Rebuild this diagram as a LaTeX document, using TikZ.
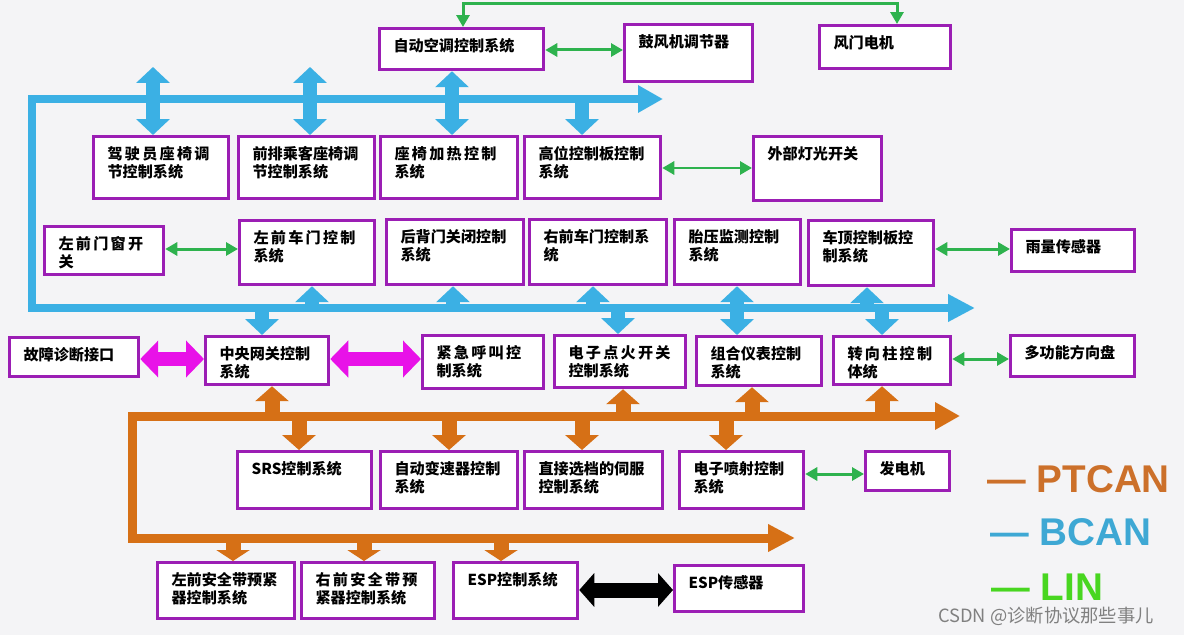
\documentclass[tikz,border=0pt]{standalone}
\usepackage{fontspec}
\setmainfont{Noto Sans CJK SC}
\newfontfamily\legfont{Liberation Sans}
\usetikzlibrary{arrows.meta}
\definecolor{boxc}{RGB}{155,30,180}
\definecolor{bcan}{RGB}{59,176,228}
\definecolor{ptcan}{RGB}{214,112,22}
\definecolor{linc}{RGB}{46,178,78}
\definecolor{magc}{RGB}{232,18,232}
\definecolor{bgc}{RGB}{244,244,246}
\definecolor{ptleg}{RGB}{204,112,42}
\definecolor{bleg}{RGB}{62,168,212}
\definecolor{lleg}{RGB}{72,214,32}
\pgfdeclarelayer{bglayer}
\pgfdeclarelayer{connlayer}
\pgfsetlayers{bglayer,connlayer,main}
\newcommand\bx[6]{%
  \pgfmathsetmacro\bxw{(#4-#2)*0.02-0.56}%
  \pgfmathsetmacro\bxh{(#5-#3)*0.02-0.4}%
  \node[box] (#1) at (#2,#3) {\parbox[t][\bxh cm][t]{\bxw cm}{#6}};}
\newcommand\lsp[1]{{\addfontfeature{LetterSpace=15}#1}}
\begin{document}
\begin{tikzpicture}[x=0.02cm,y=-0.02cm,
  box/.style={draw=boxc, fill=white, line width=0.065cm, inner xsep=0.28cm, inner ysep=0.2cm,
    font=\bfseries\fontsize{8.6}{10.3}\selectfont, anchor=north west},
  bbus/.style={draw=bcan, line width=0.17cm, line join=miter,
    {Triangle[length=0.5cm,width=0.52cm]}-{Triangle[length=0.54cm,width=0.52cm]}},
  pbus/.style={draw=ptcan, line width=0.18cm, line join=miter,
    {Triangle[length=0.5cm,width=0.52cm]}-{Triangle[length=0.54cm,width=0.52cm]}},
  barr/.style={draw=bcan, line width=0.28cm, -{Triangle[length=0.32cm,width=0.66cm]}},
  barr2/.style={draw=bcan, line width=0.28cm, {Triangle[length=0.32cm,width=0.66cm]}-{Triangle[length=0.32cm,width=0.66cm]}},
  parr/.style={draw=ptcan, line width=0.3cm, -{Triangle[length=0.3cm,width=0.66cm]}},
  parrs/.style={draw=ptcan, line width=0.3cm, -{Triangle[length=0.22cm,width=0.66cm]}},
  linarr/.style={draw=linc, line width=0.06cm, line join=miter, {Triangle[length=0.24cm,width=0.26cm]}-{Triangle[length=0.24cm,width=0.26cm]}},
  magarr/.style={draw=magc, line width=0.28cm, {Triangle[length=0.36cm,width=0.72cm]}-{Triangle[length=0.36cm,width=0.72cm]}},
  blkarr/.style={draw=black, line width=0.3cm, {Triangle[length=0.3cm,width=0.66cm]}-{Triangle[length=0.3cm,width=0.66cm]}},
  leg/.style={anchor=base west, inner sep=0, font=\legfont\bfseries\fontsize{22}{22}\selectfont}]
\begin{pgfonlayer}{bglayer}
\fill[bgc] (0,0) rectangle (1184,635);
\end{pgfonlayer}
\useasboundingbox (0,0) rectangle (1184,635);
% boxes
\bx{ac}{378}{27}{542}{68}{自动空调控制系统}
\bx{blower}{623}{23}{751}{80}{鼓风机调节器}
\bx{flap}{818}{24}{949}{67}{风门电机}
\bx{drv}{92}{135}{227}{197}{\lsp{驾驶员座椅调}\\节控制系统}
\bx{psg}{237}{135}{373}{197}{前排乘客座椅调\\节控制系统}
\bx{heat}{379}{135}{516}{197}{\lsp{座椅加热控制}\\系统}
\bx{high}{523}{135}{659}{197}{高位控制板控制\\系统}
\bx{ext}{752}{135}{880}{199}{外部灯光开关}
\bx{lwin}{43}{225}{162}{273}{\lsp{左前门窗开}\\关}
\bx{lfd}{238}{219}{373}{283}{\lsp{左前车门控制}\\系统}
\bx{tail}{385}{218}{522}{283}{后背门关闭控制\\系统}
\bx{rfd}{528}{218}{665}{283}{右前车门控制系\\统}
\bx{tpms}{673}{218}{799}{283}{胎压监测控制\\系统}
\bx{roof}{807}{219}{932}{284}{车顶控制板控\\制系统}
\bx{rain}{1010}{228}{1133}{270}{雨量传感器}
\bx{diag}{8}{336}{137}{375}{故障诊断接口}
\bx{gw}{204}{335}{327}{383}{中央网关控制\\系统}
\bx{ecall}{421}{334}{542}{387}{\lsp{紧急呼叫控}\\制系统}
\bx{ign}{553}{334}{684}{386}{\lsp{电子点火开关}\\控制系统}
\bx{ic}{695}{335}{820}{384}{组合仪表控制\\系统}
\bx{col}{832}{335}{949}{383}{\lsp{转向柱控制}\\体统}
\bx{mfw}{1009}{334}{1133}{375}{多功能方向盘}
\bx{srs}{236}{450}{370}{507}{SRS控制系统}
\bx{at}{379}{450}{516}{507}{自动变速器控制\\系统}
\bx{dsel}{523}{450}{661}{507}{直接选档的伺服\\控制系统}
\bx{efi}{678}{450}{802}{507}{电子喷射控制\\系统}
\bx{gen}{864}{450}{948}{489}{发电机}
\bx{lsb}{156}{561}{293}{617}{左前安全带预紧\\器控制系统}
\bx{rsb}{300}{561}{433}{617}{\lsp{右前安全带预}\\紧器控制系统}
\bx{espc}{452}{561}{576}{617}{ESP控制系统}
\bx{esps}{673}{564}{802}{610}{ESP传感器}
% legend and watermark
\node[leg, text=ptleg] (lg1) at (987,492) {— PTCAN};
\node[leg, text=bleg] (lg2) at (990,545) {— BCAN};
\node[leg, text=lleg] (lg3) at (991,600) {— LIN};
\node[anchor=west, inner sep=0, text=black!50, font=\fontsize{10.4}{10.4}\selectfont] (wm) at (938,616) {CSDN @诊断协议那些事儿};
% bus coordinates
\coordinate (bT) at (0,99);
\coordinate (bM) at (0,308);
\coordinate (pT) at (0,416);
\coordinate (pB) at (0,538);
\coordinate (bTend) at (663,99);
\coordinate (bMend) at (975,308);
\coordinate (pTend) at (960,416);
\coordinate (pBend) at (795,538);
\coordinate (bcorner) at (32,0);
\coordinate (pcorner) at (132,0);
\coordinate (u1) at (153,67);
\coordinate (u2) at (310,67);
\coordinate (lt) at (0,4);
\begin{pgfonlayer}{connlayer}
% BCAN bus
\draw[bbus] (bTend) -- (bcorner |- bT) -- (bcorner |- bM) -- (bMend);
% PTCAN bus
\draw[pbus] (pTend) -- (pcorner |- pT) -- (pcorner |- pB) -- (pBend);
% BCAN taps
\draw[barr2] (u1) -- (u1 |- drv.north);
\draw[barr2] (u2) -- (u2 |- psg.north);
\draw[barr2] (452,0 |- ac.south) -- (452,0 |- heat.north);
\draw[barr] (582,0 |- bT) -- (582,0 |- high.north);
\draw[barr] (312,0 |- bM) -- (312,0 |- lfd.south);
\draw[barr] (262,0 |- bM) -- (262,0 |- gw.north);
\draw[barr] (453,0 |- bM) -- (453,0 |- tail.south);
\draw[barr] (593,0 |- bM) -- (593,0 |- rfd.south);
\draw[barr] (618,0 |- bM) -- (618,0 |- ign.north);
\draw[barr2] (737,0 |- tpms.south) -- (737,0 |- ic.north);
\draw[barr] (867,0 |- bM) -- (867,0 |- roof.south);
\draw[barr] (882,0 |- bM) -- (882,0 |- col.north);
% PTCAN taps
\draw[parr] (272,0 |- pT) -- (272,0 |- gw.south);
\draw[parr] (299,0 |- pT) -- (299,0 |- srs.north);
\draw[parr] (449,0 |- pT) -- (449,0 |- at.north);
\draw[parr] (582,0 |- pT) -- (582,0 |- dsel.north);
\draw[parr] (623,0 |- pT) -- (623,0 |- ign.south);
\draw[parr] (726,0 |- pT) -- (726,0 |- efi.north);
\draw[parr] (752,0 |- pT) -- (752,0 |- ic.south);
\draw[parr] (882,0 |- pT) -- (882,0 |- col.south);
\draw[parrs] (233,0 |- pB) -- (233,0 |- lsb.north);
\draw[parrs] (364,0 |- pB) -- (364,0 |- rsb.north);
\draw[parrs] (501,0 |- pB) -- (501,0 |- espc.north);
% LIN
\draw[linarr] (463,0 |- ac.north) -- (463,0 |- lt) -- (897,0 |- lt) -- (897,0 |- flap.north);
\draw[linarr] (ac.east |- 0,50) -- (blower.west |- 0,50);
\draw[linarr] (high.east |- 0,168) -- (ext.west |- 0,168);
\draw[linarr] (lwin.east |- 0,249) -- (lfd.west |- 0,249);
\draw[linarr] (roof.east |- 0,249) -- (rain.west |- 0,249);
\draw[linarr] (col.east |- 0,359) -- (mfw.west |- 0,359);
\draw[linarr] (efi.east |- 0,474) -- (gen.west |- 0,474);
% magenta and black
\draw[magarr] (diag.east |- 0,359) -- (gw.west |- 0,359);
\draw[magarr] (gw.east |- 0,359) -- (ecall.west |- 0,359);
\draw[blkarr] (espc.east |- 0,590) -- (esps.west |- 0,590);
\end{pgfonlayer}
\end{tikzpicture}
\end{document}
